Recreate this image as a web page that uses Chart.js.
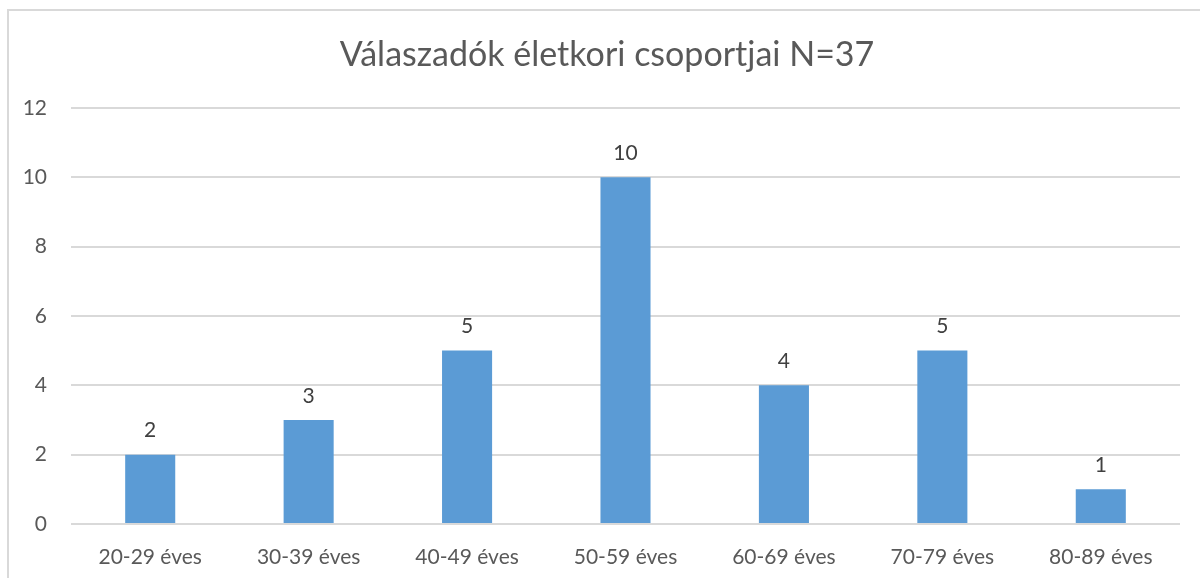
<!DOCTYPE html>
<html>
<head>
<meta charset="utf-8">
<script src="https://cdn.jsdelivr.net/npm/chart.js@4/dist/chart.umd.min.js"></script>
<style>
  html, body { margin: 0; padding: 0; background: #fff; }
  #wrap { position: relative; width: 1200px; height: 578px; overflow: hidden; }
  #frame { position: absolute; left: 7px; top: 9px; width: 1220px; height: 620px; border: 2px solid #d9d9d9; box-sizing: border-box; }
  #c { position: absolute; left: 0; top: 0; }
</style>
</head>
<body>
<div id="wrap">
  <div id="frame"></div>
  <canvas id="c" width="1200" height="578"></canvas>
</div>
<script>
// Adatok
const categories = ['20-29 éves', '30-39 éves', '40-49 éves', '50-59 éves', '60-69 éves', '70-79 éves', '80-89 éves'];
const counts = [2, 3, 5, 10, 4, 5, 1];
const chartTitle = 'Válaszadók életkori csoportjai N=37';

const FONT = 'Lato, "Open Sans", sans-serif';

// Értékcímkék az oszlopok fölött
const valueLabels = {
    id: 'valueLabels',
    afterLayout(chart) {
        // a cím kicsit jobbra van az eredetin
        if (chart.titleBlock) {
            chart.titleBlock.left += 17;
            chart.titleBlock.right += 17;
        }
    },
    afterDatasetsDraw(chart) {
        const ctx = chart.ctx;
        const meta = chart.getDatasetMeta(0);
        ctx.save();
        ctx.font = '21px ' + FONT;
        ctx.fillStyle = '#404040';
        ctx.textAlign = 'center';
        ctx.textBaseline = 'middle';
        meta.data.forEach((bar, i) => {
            ctx.fillText(String(counts[i]), bar.x, bar.y - 24);
        });
        ctx.restore();
    }
};

document.addEventListener('DOMContentLoaded', () => {
    const ctx = document.getElementById('c').getContext('2d');
    new Chart(ctx, {
        type: 'bar',
        data: {
            labels: categories,
            datasets: [{
                data: counts,
                backgroundColor: '#5b9bd5',
                borderWidth: 0,
                categoryPercentage: 1,
                barPercentage: 0.316
            }]
        },
        options: {
            responsive: false,
            animation: false,
            layout: { padding: { left: 0, right: 20, top: 0, bottom: 0 } },
            plugins: {
                legend: { display: false },
                tooltip: { enabled: false },
                title: {
                    display: true,
                    text: chartTitle,
                    color: '#595959',
                    font: { family: FONT, size: 34, weight: 'normal' },
                    padding: { top: 35, bottom: 32 }
                }
            },
            scales: {
                x: {
                    grid: { display: false },
                    border: { display: false },
                    ticks: { color: '#595959', font: { family: FONT, size: 21 }, padding: 13, maxRotation: 0 },
                    afterFit(scale) { scale.height = 54; }
                },
                y: {
                    min: 0,
                    max: 12,
                    ticks: { stepSize: 2, color: '#595959', font: { family: FONT, size: 21 }, padding: 24 },
                    grid: { color: '#d9d9d9', lineWidth: 2, drawTicks: false },
                    border: { display: false },
                    afterFit(scale) { scale.width = 71; }
                }
            }
        },
        plugins: [valueLabels]
    });
});
</script>
</body>
</html>
